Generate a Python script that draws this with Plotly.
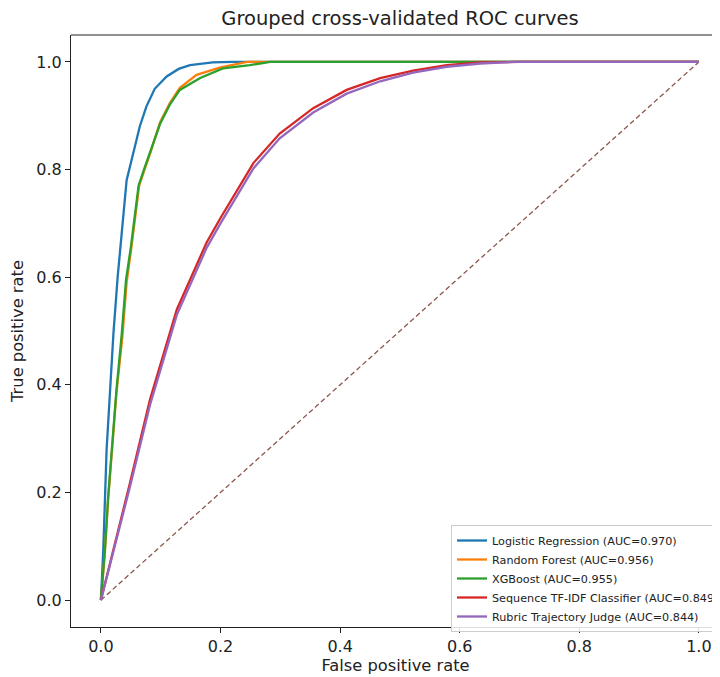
import plotly.graph_objects as go

# ---- data ----
lr_fpr = [0, 0.002, 0.004, 0.0095, 0.015, 0.021, 0.028, 0.035, 0.043, 0.054, 0.065, 0.076, 0.09, 0.11, 0.13, 0.149, 0.187, 0.22, 1.0]
lr_tpr = [0, 0.04, 0.093, 0.279, 0.39, 0.496, 0.60, 0.688, 0.78, 0.83, 0.88, 0.917, 0.95, 0.973, 0.987, 0.994, 0.999, 1.0, 1.0]

rf_fpr = [0, 0.0067, 0.012, 0.018, 0.026, 0.036, 0.043, 0.051, 0.057, 0.064, 0.073, 0.083, 0.099, 0.115, 0.132, 0.16, 0.2, 0.232, 0.245, 1.0]
rf_tpr = [0, 0.09, 0.185, 0.275, 0.385, 0.49, 0.59, 0.655, 0.71, 0.77, 0.80, 0.832, 0.888, 0.923, 0.952, 0.976, 0.99, 0.998, 1.0, 1.0]

xgb_fpr = [0, 0.0067, 0.012, 0.018, 0.026, 0.035, 0.042, 0.05, 0.056, 0.063, 0.072, 0.082, 0.099, 0.115, 0.132, 0.166, 0.204, 0.249, 0.283, 1.0]
xgb_tpr = [0, 0.093, 0.19, 0.279, 0.39, 0.496, 0.595, 0.655, 0.71, 0.77, 0.80, 0.83, 0.885, 0.92, 0.948, 0.97, 0.988, 0.994, 1.0, 1.0]

seq_fpr = [0, 0.021, 0.0485, 0.082, 0.127, 0.177, 0.2, 0.255, 0.299, 0.355, 0.411, 0.467, 0.522, 0.578, 0.634, 0.70, 1.0]
seq_tpr = [0, 0.093, 0.217, 0.372, 0.540, 0.665, 0.71, 0.812, 0.867, 0.914, 0.948, 0.970, 0.984, 0.994, 0.999, 1.0, 1.0]

rtj_fpr = [0, 0.021, 0.0485, 0.082, 0.127, 0.177, 0.2, 0.255, 0.299, 0.355, 0.411, 0.467, 0.522, 0.578, 0.634, 0.69, 1.0]
rtj_tpr = [0, 0.09, 0.21, 0.362, 0.530, 0.655, 0.70, 0.802, 0.858, 0.906, 0.941, 0.964, 0.980, 0.991, 0.997, 1.0, 1.0]

names = [
    "Logistic Regression (AUC=0.970)",
    "Random Forest (AUC=0.956)",
    "XGBoost (AUC=0.955)",
    "Sequence TF-IDF Classifier (AUC=0.849)",
    "Rubric Trajectory Judge (AUC=0.844)",
]
colors = ["#1f77b4", "#ff7f0e", "#2ca02c", "#d62728", "#9467bd"]
chance = [0, 1]
tick_vals = [0, 0.2, 0.4, 0.6, 0.8, 1.0]
tick_text = ["0.0", "0.2", "0.4", "0.6", "0.8", "1.0"]

xs = [lr_fpr, rf_fpr, xgb_fpr, seq_fpr, rtj_fpr]
ys = [lr_tpr, rf_tpr, xgb_tpr, seq_tpr, rtj_tpr]

FONT = "DejaVu Sans"
# page body has an 8px default margin; figure sized to fit the 720x677 window
W, H = 712, 669
ML, MT, MB = 63, 27, 50
PW, PH = W - ML, H - MT - MB

fig = go.Figure()
fig.add_trace(go.Scatter(x=chance, y=chance, mode="lines", showlegend=False,
                         line=dict(color="#8c564b", width=1.3, dash="5px,3px")))
for x, y, n, c in zip(xs, ys, names, colors):
    fig.add_trace(go.Scatter(x=x, y=y, mode="lines", name=n,
                             line=dict(color=c, width=2.3)))

axis_common = dict(
    tickvals=tick_vals, ticktext=tick_text,
    showgrid=False, zeroline=False, showline=True, linecolor="#222", linewidth=1.1,
    ticks="outside", ticklen=5, tickcolor="#222", tickwidth=1.1,
    tickfont=dict(size=16, color="#222"),
)

fig.update_layout(
    width=W, height=H,
    margin=dict(l=ML, r=0, t=MT, b=MB, autoexpand=False),
    paper_bgcolor="white", plot_bgcolor="white",
    font=dict(family=FONT, size=16, color="#222"),
    title=dict(text="Grouped cross-validated ROC curves", x=392/W, xanchor="center",
               y=1 - 10/H, yanchor="middle", yref="container",
               font=dict(size=19.5, family=FONT, color="#222")),
    xaxis=dict(range=[-0.05, 1.0353],
               title=dict(text="False positive rate", standoff=4, font=dict(size=16.3)),
               **axis_common),
    yaxis=dict(range=[-0.05, 1.05],
               title=dict(text="True positive rate", standoff=8, font=dict(size=16.3)),
               **axis_common),
    legend=dict(x=(443 - ML) / PW, xanchor="left", y=(PH + MT - 517) / PH, yanchor="top",
                bgcolor="rgba(255,255,255,0.85)", bordercolor="#cccccc", borderwidth=1,
                font=dict(size=11.2, family=FONT, color="#222"), tracegroupgap=0,
                itemwidth=30),
    shapes=[dict(type="line", xref="paper", yref="paper", x0=0, x1=1, y0=1, y1=1,
                 line=dict(color="#222", width=1.1))],
)

fig.write_html("out.html")
